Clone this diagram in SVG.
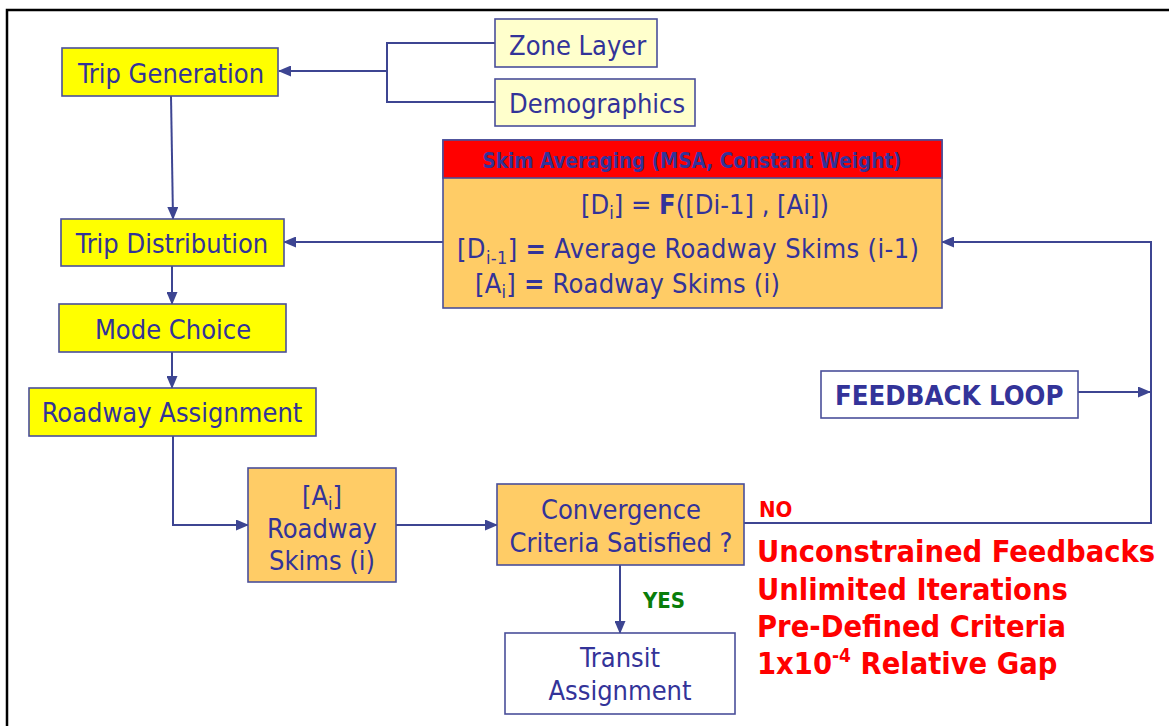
<svg xmlns="http://www.w3.org/2000/svg" width="1169" height="726" viewBox="0 0 1169 726">
<style>
text{font-family:"DejaVu Sans Condensed","DejaVu Sans",sans-serif;font-stretch:condensed;fill:#333399}
.lbl{font-size:27px}
.c{text-anchor:middle}
.b{font-weight:bold}
.red{fill:#ff0000;font-weight:bold;font-size:30.5px}
.box{stroke:#4a4f9a;stroke-width:1.6}
.y{fill:#ffff00}
.ly{fill:#ffffcc}
.o{fill:#ffcc66}
.w{fill:#ffffff}
.ln{fill:none;stroke:#3d4592;stroke-width:2}
</style>
<defs>
<marker id="ah" markerUnits="userSpaceOnUse" markerWidth="13" markerHeight="11" refX="12" refY="5.5" orient="auto">
<path d="M0,0 L13,5.5 L0,11 Z" fill="#3d4592"/>
</marker>
</defs>
<rect width="1169" height="726" fill="#ffffff"/>
<path d="M7,726 V10 H1169" fill="none" stroke="#000" stroke-width="2.5"/>

<g id="connectors">
<path class="ln" d="M495,43 H387 V102 H495"/>
<path class="ln" d="M387,71 H279" marker-end="url(#ah)"/>
<path class="ln" d="M171,96 L173,219" marker-end="url(#ah)"/>
<path class="ln" d="M172,266 V304" marker-end="url(#ah)"/>
<path class="ln" d="M172,352 V388" marker-end="url(#ah)"/>
<path class="ln" d="M173,436 V525 H248" marker-end="url(#ah)"/>
<path class="ln" d="M396,525 H497" marker-end="url(#ah)"/>
<path class="ln" d="M620,565 V633" marker-end="url(#ah)"/>
<path class="ln" d="M443,242 H284" marker-end="url(#ah)"/>
<path class="ln" d="M744,523 H1151 V242 H942" marker-end="url(#ah)"/>
<path class="ln" d="M1078,392 H1150" marker-end="url(#ah)"/>
</g>

<g id="zone-layer">
<rect class="box ly" x="495" y="19" width="162" height="48"/>
<text class="lbl" x="509" y="55">Zone Layer</text>
</g>
<g id="demographics">
<rect class="box ly" x="495" y="79" width="200" height="47"/>
<text class="lbl" x="509" y="113">Demographics</text>
</g>
<g id="trip-generation">
<rect class="box y" x="62" y="48" width="216" height="48"/>
<text class="lbl c" x="171" y="83">Trip Generation</text>
</g>
<g id="trip-distribution">
<rect class="box y" x="61" y="219" width="223" height="47"/>
<text class="lbl c" x="172" y="253">Trip Distribution</text>
</g>
<g id="mode-choice">
<rect class="box y" x="59" y="304" width="227" height="48"/>
<text class="lbl c" x="173" y="339">Mode Choice</text>
</g>
<g id="roadway-assignment">
<rect class="box y" x="29" y="388" width="287" height="48"/>
<text class="lbl c" x="172" y="422">Roadway Assignment</text>
</g>

<g id="skim-averaging">
<rect class="box o" x="443" y="140" width="499" height="168"/>
<rect x="443" y="140" width="499" height="38" fill="#ff0000" stroke="#4a4f9a" stroke-width="1.6"/>
<text class="b c" x="692" y="168" font-size="20.5" textLength="419" lengthAdjust="spacingAndGlyphs">Skim Averaging (MSA, Constant Weight)</text>
<text class="lbl" x="581" y="214" textLength="248">[D<tspan font-size="18" dy="5">i</tspan><tspan dy="-5">] = </tspan><tspan class="b">F</tspan>([Di-1] , [Ai])</text>
<text class="lbl" x="457" y="258" textLength="462">[D<tspan font-size="18" dy="6">i-1</tspan><tspan dy="-6">] </tspan><tspan class="b">=</tspan>  Average Roadway Skims (i-1)</text>
<text class="lbl" x="475" y="293" textLength="305">[A<tspan font-size="18" dy="5">i</tspan><tspan dy="-5">] </tspan><tspan class="b">=</tspan> Roadway Skims (i)</text>
</g>

<g id="roadway-skims">
<rect class="box o" x="248" y="468" width="148" height="114"/>
<text class="lbl c" x="322" y="505">[A<tspan font-size="18" dy="5">i</tspan><tspan dy="-5">]</tspan></text>
<text class="lbl c" x="322" y="538">Roadway</text>
<text class="lbl c" x="322" y="570">Skims (i)</text>
</g>

<g id="convergence">
<rect class="box o" x="497" y="484" width="247" height="81"/>
<text class="lbl c" x="621" y="519">Convergence</text>
<text class="lbl c" x="621" y="552">Criteria Satisfied ?</text>
</g>

<g id="transit-assignment">
<rect class="box w" x="505" y="633" width="230" height="81"/>
<text class="lbl c" x="620" y="667">Transit</text>
<text class="lbl c" x="620" y="700">Assignment</text>
</g>

<g id="feedback-loop">
<rect class="box w" x="821" y="371" width="257" height="47"/>
<text class="b" x="835" y="405" font-size="27.3">FEEDBACK LOOP</text>
</g>

<g id="labels">
<text class="b" x="643" y="608" font-size="22" style="fill:#0a7d0a">YES</text>
<text class="b" x="759" y="517" font-size="22" style="fill:#ff0000">NO</text>
<text class="red" x="757" y="562">Unconstrained Feedbacks</text>
<text class="red" x="757" y="600">Unlimited Iterations</text>
<text class="red" x="757" y="637">Pre-Defined Criteria</text>
<text class="red" x="757" y="674">1x10<tspan font-size="19" dy="-12">-4</tspan><tspan dy="12"> Relative Gap</tspan></text>
</g>
</svg>
